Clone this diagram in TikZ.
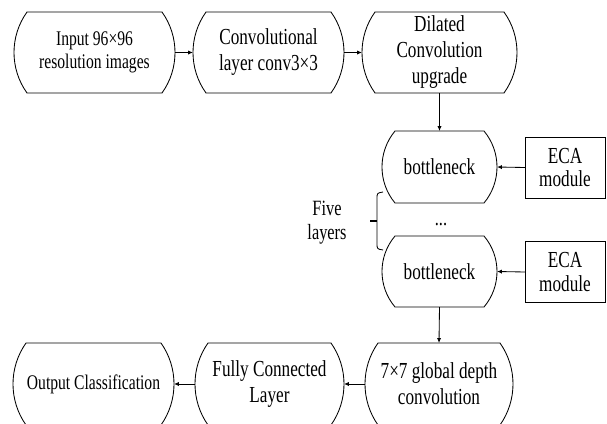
\documentclass[tikz,border=0pt]{standalone}
\usepackage{fontspec}
\setmainfont{Liberation Serif}[FakeStretch=0.75]
\usetikzlibrary{arrows.meta}

\tikzset{
  boxtext/.style={align=center, inner sep=0pt, outer sep=0pt,
    font=\fontsize{16.3}{18.5}\selectfont},
  smalltext/.style={font=\fontsize{14.8}{16.4}\selectfont},
  outline/.style={line width=0.6pt},
  modulebox/.style={draw, line width=0.6pt, align=center, inner sep=0pt, outer sep=0pt,
    minimum width=80*0.71132pt, minimum height=61*0.71132pt,
    font=\fontsize{16.3}{17}\selectfont},
  flow/.style={-{Latex[length=3.5pt,width=3pt]}, line width=0.6pt},
  plain/.style={align=center, inner sep=0pt, font=\fontsize{15.5}{17}\selectfont},
}

% horizontal bulge of the curved box sides (in picture units)
\newcommand\capBulge{13}

% #1 name, #2 left, #3 right, #4 top, #5 bottom, #6 extra style, #7 text
\newcommand\capsulebox[7]{%
  \pgfmathsetmacro\capA{(#5-#4)/2}%
  \pgfmathsetmacro\capDX{4/3*\capBulge}%
  \pgfmathsetmacro\capDY{2*(\capA*\capA-\capBulge*\capBulge)/(3*\capA)}%
  \pgfmathsetmacro\capW{(#3-#2)*0.71132}%
  \pgfmathsetmacro\capH{(#5-#4)*0.71132}%
  \node[boxtext,#6,minimum width=\capW pt,minimum height=\capH pt]
    (#1) at ({(#2+#3)/2},{(#4+#5)/2}) {#7};
  \draw[outline] (#2+\capBulge,#4) -- (#3-\capBulge,#4)
    .. controls (#3-\capBulge+\capDX,#4+\capDY) and (#3-\capBulge+\capDX,#5-\capDY) .. (#3-\capBulge,#5)
    -- (#2+\capBulge,#5)
    .. controls (#2+\capBulge-\capDX,#5-\capDY) and (#2+\capBulge-\capDX,#4+\capDY) .. cycle;
}

\begin{document}
\begin{tikzpicture}[x=0.025cm, y=-0.025cm]
  \useasboundingbox (0,0) rectangle (607,423);

  % top row
  \capsulebox{input}{14}{175}{12}{93}{smalltext}{Input 96×96\\resolution images}
  \capsulebox{conv}{193}{344}{12}{93}{}{Convolutional\\layer conv3×3}
  \capsulebox{dilated}{362}{517}{12}{93}{}{Dilated\\Convolution\\upgrade}

  % bottleneck stack
  \capsulebox{bnA}{382}{497}{131}{203}{}{bottleneck}
  \capsulebox{bnB}{382}{497}{236}{307}{}{bottleneck}
  \node[plain] (dots) at (441,225) {...};

  \node[modulebox] (ecaA) at (565,167.5) {ECA\\module};
  \node[modulebox] (ecaB) at (565,272) {ECA\\module};

  % bottom row
  \capsulebox{depth}{365}{513}{343}{425}{}{7×7 global depth\\convolution}
  \capsulebox{fc}{195}{344}{343}{425}{}{Fully Connected\\Layer}
  \capsulebox{output}{13}{174}{343}{425}{smalltext}{Output Classification}

  % brace grouping the bottleneck layers
  \coordinate (braceTop) at (383,192);
  \coordinate (braceBot) at (383,250);
  \coordinate (braceMid) at (377,221);
  \coordinate (braceTick) at (370,221);
  \draw[outline] (braceTop) .. controls (377,193) .. (377,199) -- (377,243)
    .. controls (377,249) .. (braceBot);
  \draw[line width=1pt] (braceTick) -- (braceMid);
  \node[plain] (five) at (327,223) {Five\\layers};

  % connectors
  \draw[flow] (input.east) -- (conv.west);
  \draw[flow] (conv.east) -- (dilated.west);
  \draw[flow] (dilated.south) -- (bnA.north);
  \draw[flow] (ecaA.west) -- (bnA.east);
  \draw[flow] (ecaB.west) -- (bnB.east);
  \draw[flow] (bnB.south) -- (depth.north);
  \draw[flow] (depth.west) -- (fc.east);
  \draw[flow] (fc.west) -- (output.east);
\end{tikzpicture}
\end{document}
